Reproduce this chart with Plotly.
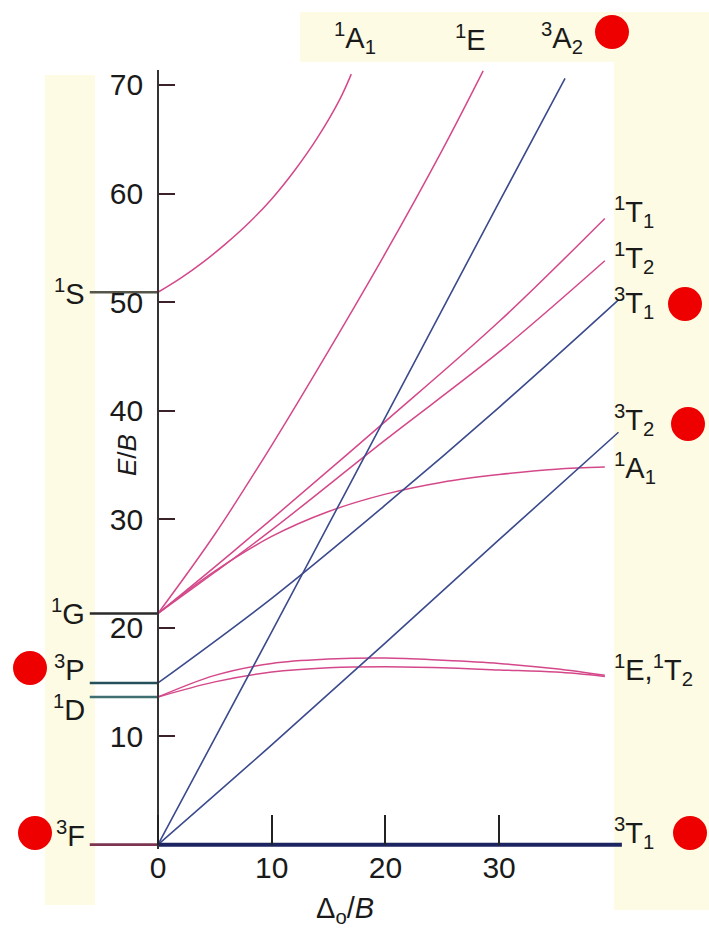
import plotly.graph_objects as go

# ---------------------------------------------------------------
# Tanabe–Sugano diagram (d2 octahedral): E/B against Δo/B
# ---------------------------------------------------------------

# free-ion terms (E/B at Δo = 0), drawn as short stubs left of the axis
term_names = ["<sup>1</sup>S", "<sup>1</sup>G", "<sup>3</sup>P", "<sup>1</sup>D", "<sup>3</sup>F"]
term_energy = [50.9, 21.3, 14.9, 13.6, 0.0]
term_colors = ["#55554a", "#2a2a2a", "#24505c", "#3f6f70", "#7c3450"]
stub_start = -6.0

# singlet states (pink)
d_1A1_S = [0, 2, 4, 6, 8, 10, 12, 14, 16, 17.0]
E_1A1_S = [50.9, 52.2, 53.7, 55.4, 57.3, 59.5, 62.1, 65.1, 68.7, 71.0]

d_1E_G = [0, 5, 10, 15, 20, 25, 28.6]
E_1E_G = [21.3, 28.6, 36.8, 45.5, 54.5, 64.0, 71.3]

d_1T1_G = [0, 5, 10, 20, 30, 39.3]
E_1T1_G = [21.3, 25.6, 30.0, 39.0, 48.2, 57.7]

d_1T2_G = [0, 5, 10, 20, 30, 39.3]
E_1T2_G = [21.3, 25.1, 29.0, 37.3, 45.4, 53.8]

d_1A1_G = [0, 5, 10, 15, 20, 25, 30, 35, 39.3]
E_1A1_G = [21.3, 25.2, 28.4, 30.7, 32.3, 33.4, 34.1, 34.6, 34.8]

d_1D_pair = [0, 5, 10, 15, 20, 25, 30, 35, 39.3]
E_1E_D = [13.6, 15.6, 16.7, 17.1, 17.2, 17.0, 16.7, 16.2, 15.6]
E_1T2_D = [13.6, 15.0, 15.9, 16.3, 16.4, 16.3, 16.1, 15.9, 15.5]

# triplet states (blue)
d_3A2 = [0, 10, 20, 30, 35.8]
E_3A2 = [0.0, 19.6, 39.4, 59.2, 70.6]

d_3T1_P = [0, 10, 20, 30, 40.5]
E_3T1_P = [14.9, 22.7, 31.3, 40.3, 50.2]

d_3T2 = [0, 10, 20, 30, 40.5]
E_3T2 = [0.0, 9.2, 18.6, 28.1, 38.0]

d_3T1_F = [0, 40.8]
E_3T1_F = [0.0, 0.0]

x_ticks = [0, 10, 20, 30]
y_ticks = [10, 20, 30, 40, 50, 60, 70]

PINK = "#d4488a"
BLUE = "#3b4a8c"
NAVY = "#1d2462"
PALE = "#fdfbe4"

W, H = 709, 946
ML, MR, MT, MB = 85, 87, 70, 97
X_RANGE = [-6.42, 40.81]
Y_RANGE = [-0.4, 71.38]


def fx(p):
    """pixel column -> paper x"""
    return (p - ML) / (W - ML - MR)


def fy(p):
    """pixel row -> paper y"""
    return (H - MB - p) / (H - MT - MB)


fig = go.Figure()

# free-ion stubs
for name, e, c in zip(term_names, term_energy, term_colors):
    fig.add_trace(go.Scatter(x=[stub_start, 0], y=[e, e], mode="lines",
                             line=dict(color=c, width=2.6), hoverinfo="skip"))

singlets = [
    (d_1A1_S, E_1A1_S), (d_1E_G, E_1E_G), (d_1T1_G, E_1T1_G), (d_1T2_G, E_1T2_G),
    (d_1A1_G, E_1A1_G), (d_1D_pair, E_1E_D), (d_1D_pair, E_1T2_D),
]
for xs, ys in singlets:
    fig.add_trace(go.Scatter(x=xs, y=ys, mode="lines",
                             line=dict(color=PINK, width=1.5, shape="spline", smoothing=1.0),
                             hoverinfo="skip"))

triplets = [(d_3A2, E_3A2), (d_3T1_P, E_3T1_P), (d_3T2, E_3T2)]
for xs, ys in triplets:
    fig.add_trace(go.Scatter(x=xs, y=ys, mode="lines",
                             line=dict(color=BLUE, width=1.6, shape="spline", smoothing=1.0),
                             hoverinfo="skip"))

# ground state along the baseline
fig.add_trace(go.Scatter(x=d_3T1_F, y=E_3T1_F, mode="lines",
                         line=dict(color=NAVY, width=4), hoverinfo="skip"))

shapes = []
# pale background panels behind the labels
for x0, y0, x1, y1 in [(45, 75, 95, 905), (300, 12, 709, 62), (614, 62, 709, 910)]:
    shapes.append(dict(type="rect", xref="paper", yref="paper", layer="below",
                       x0=fx(x0), x1=fx(x1), y0=fy(y1), y1=fy(y0),
                       fillcolor=PALE, line=dict(width=0)))
# red markers beside the spin-allowed triplet labels
for cx, cy in [(30, 668), (35, 833), (612, 32), (685, 304), (688, 424), (690, 833)]:
    r = 17
    shapes.append(dict(type="circle", xref="paper", yref="paper",
                       x0=fx(cx - r), x1=fx(cx + r), y0=fy(cy + r), y1=fy(cy - r),
                       fillcolor="#ee0000", line=dict(width=0)))

LAB = dict(family="Liberation Sans, Arial, sans-serif", size=29, color="#1a1a1a")
ann = []
# left: free-ion term labels
left_labels = [("<sup>1</sup>S", 292), ("<sup>1</sup>G", 612), ("<sup>3</sup>P", 668),
               ("<sup>1</sup>D", 708), ("<sup>3</sup>F", 834)]
for t, py in left_labels:
    ann.append(dict(text=t, xref="paper", yref="paper", x=fx(87), y=fy(py),
                    xanchor="right", yanchor="middle", showarrow=False, font=LAB))
# right: strong-field state labels
right_labels = [("<sup>1</sup>T<sub>1</sub>", 212), ("<sup>1</sup>T<sub>2</sub>", 258),
                ("<sup>3</sup>T<sub>1</sub>", 303), ("<sup>3</sup>T<sub>2</sub>", 420),
                ("<sup>1</sup>A<sub>1</sub>", 468), ("<sup>1</sup>E,<sup>1</sup>T<sub>2</sub>", 670),
                ("<sup>3</sup>T<sub>1</sub>", 833)]
for t, py in right_labels:
    ann.append(dict(text=t, xref="paper", yref="paper", x=fx(612), y=fy(py),
                    xanchor="left", yanchor="middle", showarrow=False, font=LAB))
# top labels
top_labels = [("<sup>1</sup>A<sub>1</sub>", 355), ("<sup>1</sup>E", 470), ("<sup>3</sup>A<sub>2</sub>", 562)]
for t, px in top_labels:
    ann.append(dict(text=t, xref="paper", yref="paper", x=fx(px), y=fy(38),
                    xanchor="center", yanchor="middle", showarrow=False, font=LAB))
# axis titles
ann.append(dict(text="<i>E</i>/<i>B</i>", xref="paper", yref="paper", x=fx(127), y=fy(455),
                textangle=-90, showarrow=False, xanchor="center", yanchor="middle",
                font=dict(family="Liberation Sans, Arial, sans-serif", size=26, color="#1a1a1a")))
ann.append(dict(text="Δ<sub>o</sub>/<i>B</i>", xref="paper", yref="paper", x=fx(345), y=fy(910),
                showarrow=False, xanchor="center", yanchor="middle",
                font=dict(family="Liberation Sans, Arial, sans-serif", size=29, color="#1a1a1a")))

TICK = dict(family="Liberation Sans, Arial, sans-serif", size=30, color="#1a1a1a")
fig.update_layout(
    width=W, height=H, margin=dict(l=ML, r=MR, t=MT, b=MB, pad=0),
    paper_bgcolor="white", plot_bgcolor="rgba(0,0,0,0)", showlegend=False,
    shapes=shapes, annotations=ann,
    xaxis=dict(range=X_RANGE, tickvals=x_ticks, ticks="inside", ticklen=30, tickwidth=1.6,
               tickcolor="#222", showline=False, showgrid=False, zeroline=False,
               anchor="free", position=(0 - Y_RANGE[0]) / (Y_RANGE[1] - Y_RANGE[0]),
               tickfont=TICK, ticklabelstandoff=2, fixedrange=True),
    yaxis=dict(range=Y_RANGE, tickvals=y_ticks, ticks="inside", ticklen=16, tickwidth=1.8,
               tickcolor="#3a2228", showline=True, linecolor="#333", linewidth=1.8,
               showgrid=False, zeroline=False, anchor="free",
               position=(0 - X_RANGE[0]) / (X_RANGE[1] - X_RANGE[0]),
               tickfont=TICK, ticklabelstandoff=8, fixedrange=True),
)

fig.write_html("out.html")
